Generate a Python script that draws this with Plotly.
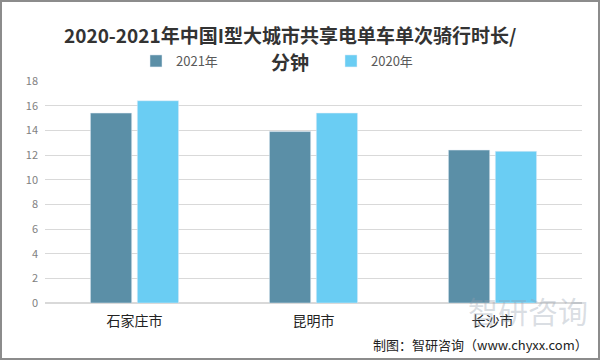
import plotly.graph_objects as go

categories = ["石家庄市", "昆明市", "长沙市"]
values_2021 = [15.4, 13.9, 12.4]
values_2020 = [16.4, 15.4, 12.3]
tick_vals = [0, 2, 4, 6, 8, 10, 12, 14, 16, 18]

font_cn = "Microsoft YaHei, Noto Sans CJK SC, sans-serif"

W, H = 600, 360
ML, MR, MT, MB = 45, 18, 81, 57
PW, PH = W - ML - MR, H - MT - MB


def px(x):
    return (x - ML) / PW


def py(y):
    return (H - MB - y) / PH


fig = go.Figure()
fig.add_trace(go.Bar(name="2021年", x=categories, y=values_2021, marker_color="#5b8fa7"))
fig.add_trace(go.Bar(name="2020年", x=categories, y=values_2020, marker_color="#6acdf3"))

fig.update_layout(
    width=W, height=H,
    margin=dict(l=ML, r=MR, t=MT, b=MB),
    paper_bgcolor="white", plot_bgcolor="white",
    barmode="group", bargap=0.476, bargroupgap=0.12,
    font=dict(family=font_cn),
    showlegend=True,
    legend=dict(orientation="h", x=px(136), y=py(61), xanchor="left", yanchor="middle",
                entrywidth=150, entrywidthmode="pixels",
                font=dict(size=13, color="#595959"), itemwidth=30,
                bgcolor="rgba(0,0,0,0)"),
    xaxis=dict(showline=False, ticks="", ticklabelstandoff=8,
               tickfont=dict(size=14, color="#222222")),
    yaxis=dict(range=[0, 18], tickvals=tick_vals, showgrid=True, gridcolor="#d9d9d9",
               zeroline=True, zerolinecolor="#d9d9d9", ticks="", ticklabelstandoff=6,
               tickfont=dict(size=11, color="#7f7f7f")),
)

fig.add_annotation(xref="paper", yref="paper", x=px(290), y=py(35), xanchor="center", yanchor="middle",
                   text="<b>2020-2021年中国I型大城市共享电单车单次骑行时长/</b>",
                   showarrow=False, font=dict(size=19, color="#333333", family=font_cn))
fig.add_annotation(xref="paper", yref="paper", x=px(290), y=py(61), xanchor="center", yanchor="middle",
                   text="<b>分钟</b>", showarrow=False, font=dict(size=19, color="#333333", family=font_cn))
# watermark
fig.add_annotation(xref="paper", yref="paper", x=px(590), y=py(310), xanchor="right", yanchor="middle",
                   text="智研咨询", showarrow=False, font=dict(size=30, color="rgba(150,160,175,0.35)", family=font_cn))
# footer
fig.add_annotation(xref="paper", yref="paper", x=px(590), y=py(344), xanchor="right", yanchor="middle",
                   text="制图：智研咨询（www.chyxx.com）", showarrow=False,
                   font=dict(size=13, color="#222222", family=font_cn))
# border
fig.add_shape(type="rect", xref="paper", yref="paper", x0=px(1), x1=px(W - 1), y0=py(H - 1), y1=py(1),
              line=dict(color="#8c8c8c", width=2), fillcolor="rgba(0,0,0,0)")

fig.write_html("out.html", config={"displayModeBar": False},
               post_script="document.body.style.margin='0';document.body.style.overflow='hidden';")
